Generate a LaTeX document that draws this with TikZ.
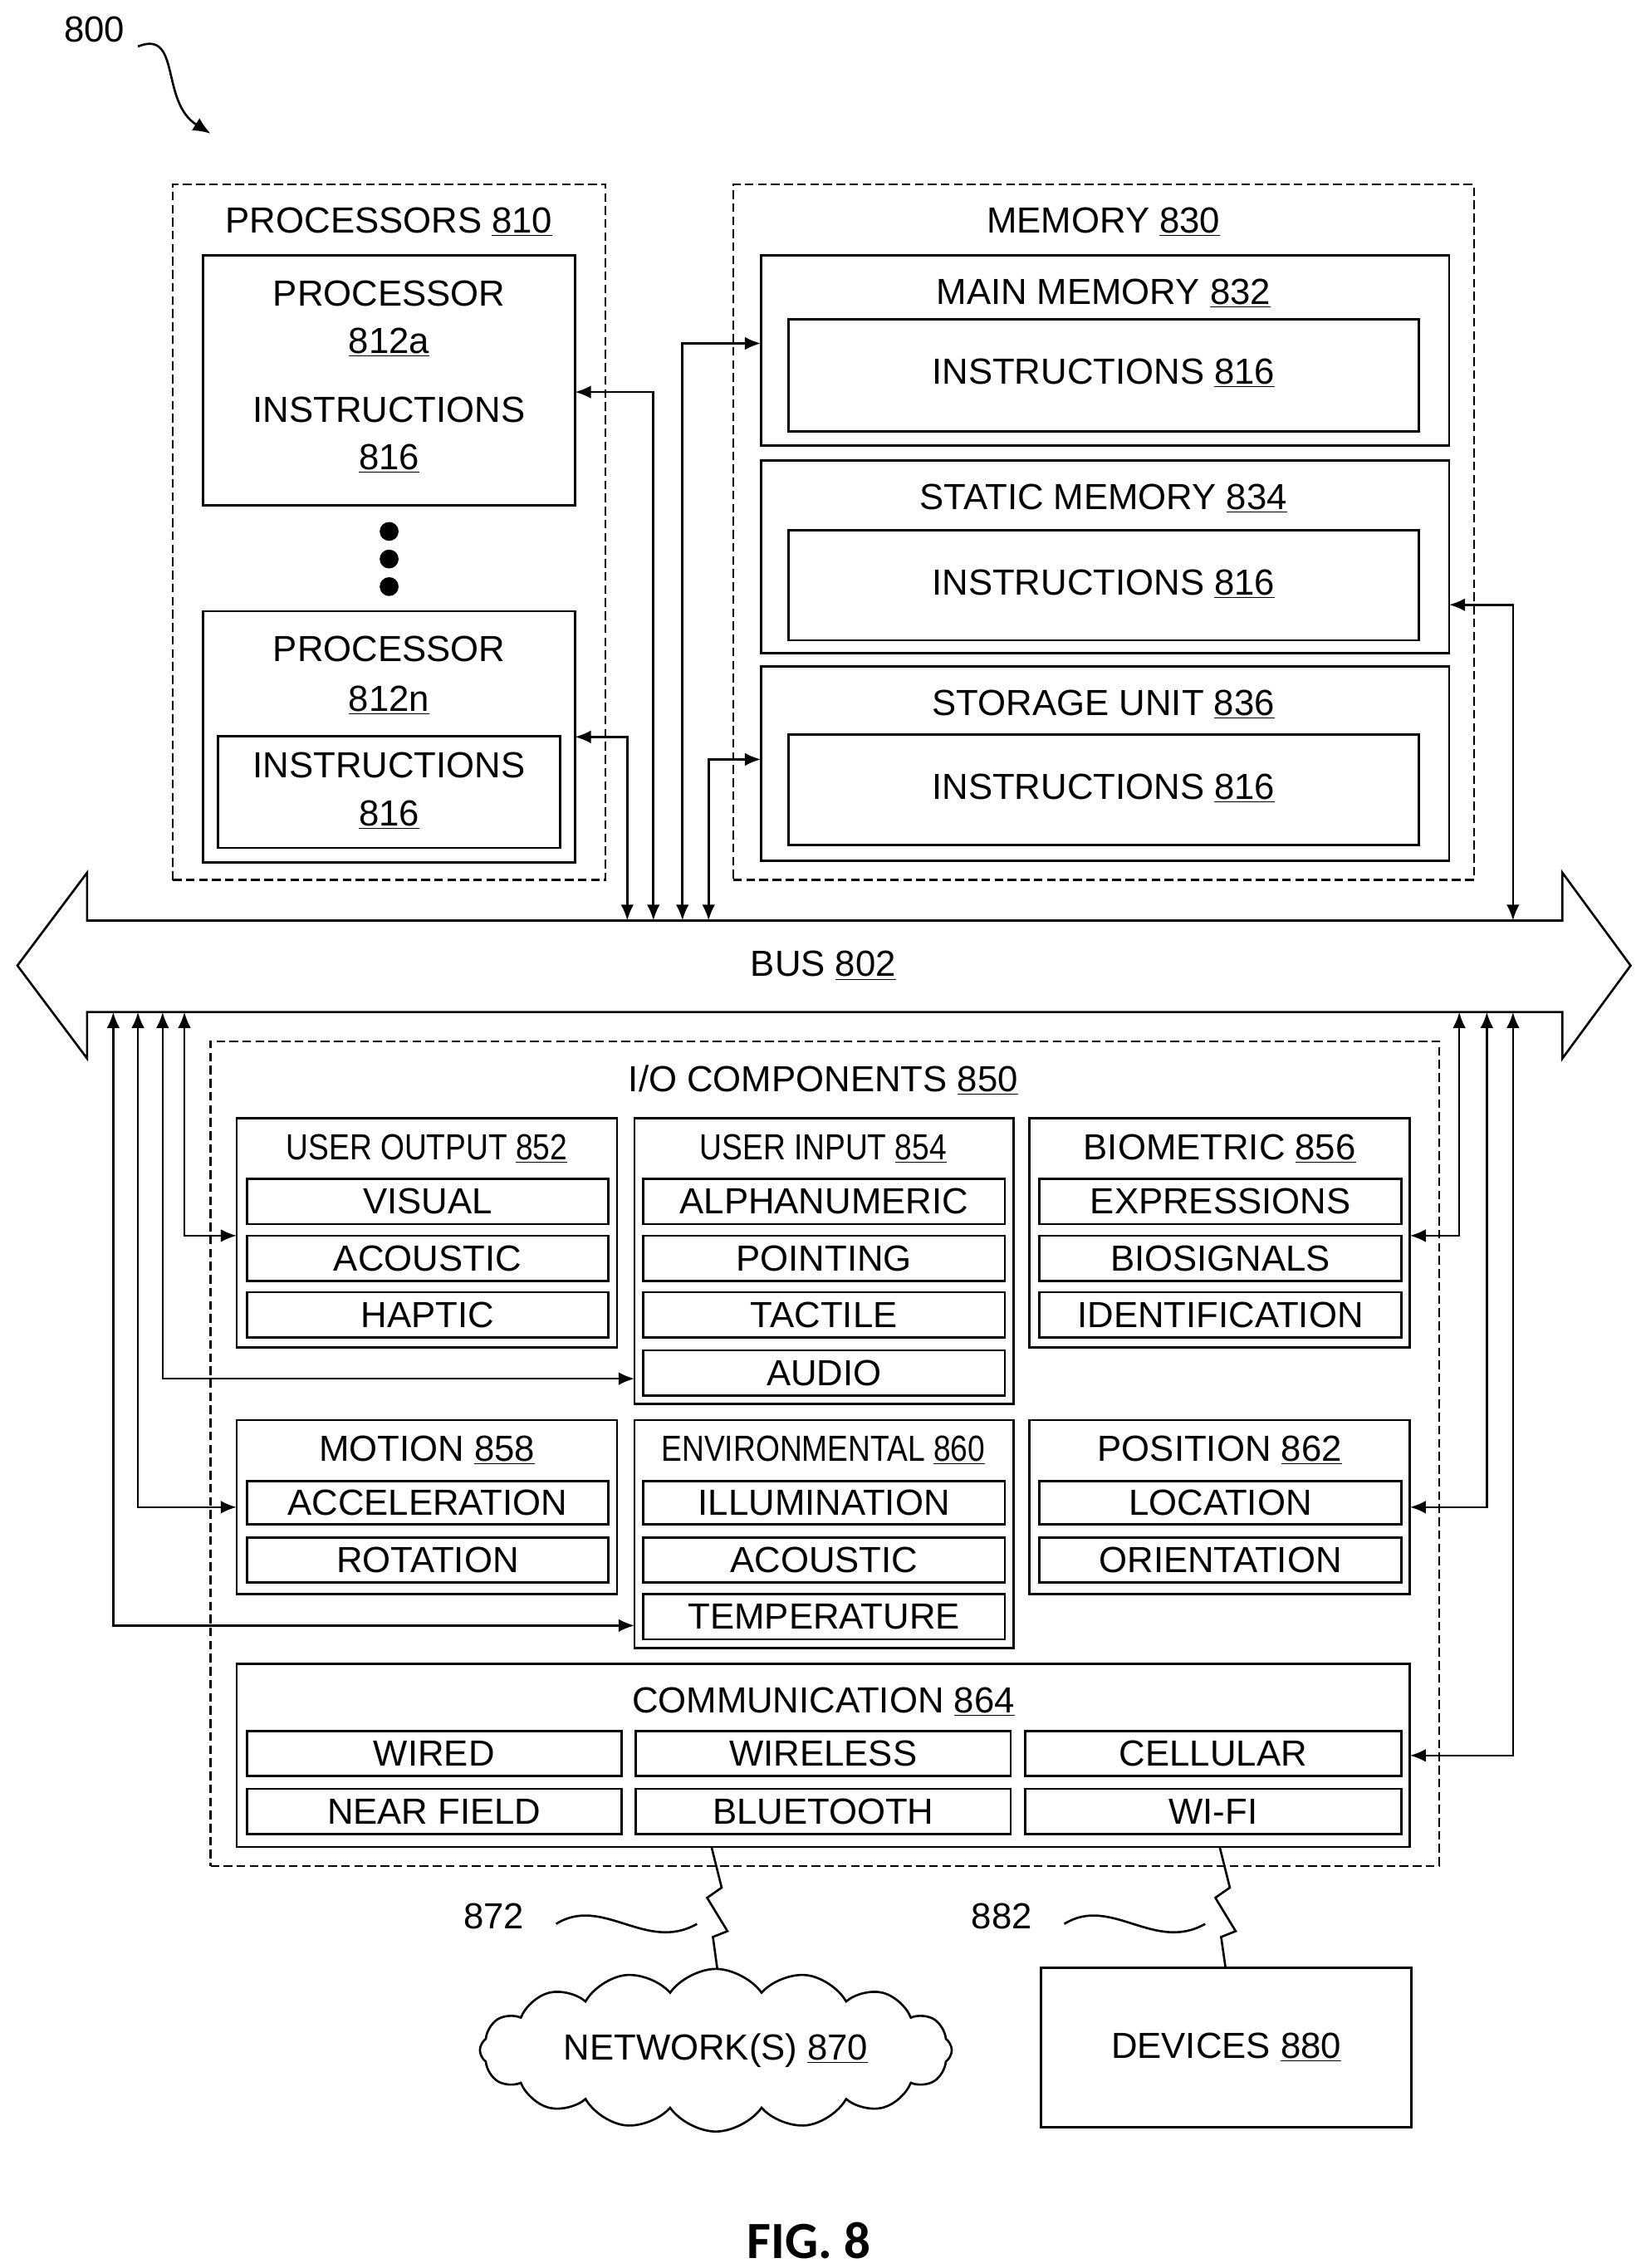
\documentclass[tikz,border=0pt]{standalone}
\usepackage{fontspec}
\setmainfont{Liberation Sans}
\newfontfamily\figfont{Carlito}
\usetikzlibrary{arrows.meta,shapes.symbols}
\newcommand\ul[1]{\underline{#1}}
\newcommand\nar[1]{\scalebox{0.85}[1]{#1}}
\newcommand\mybox[6]{\node[#1,minimum width={#5-#3},minimum height={#6-#4}] (#2) at ({(#3+#5)/2},{(#4+#6)/2}) {};}
\newcommand\myitem[6]{\mybox{box}{#1}{#2}{#3}{#4}{#5}\node[txt] at (#1) {#6};}
\begin{document}
\begin{tikzpicture}[x=1pt,y=-1pt,
  box/.style={draw,line width=1.6pt,inner sep=0,outer sep=0},
  dbox/.style={draw,line width=1.2pt,dash pattern=on 6pt off 3pt,inner sep=0,outer sep=0},
  txt/.style={font=\fontsize{25}{30}\selectfont,inner sep=0},
  ln/.style={line width=1.5pt},
  arr/.style={ln,{Latex[length=11pt,width=9pt]}-{Latex[length=11pt,width=9pt]}},
  arre/.style={ln,-{Latex[length=11pt,width=9pt]}}]
\useasboundingbox (0,0) rectangle (1130,1562);
% 800
\node[txt] (l800) at (65,20) {800};
\draw[ln,-{Latex[length=12pt,width=10pt]}] (95,32) .. controls (125,20) and (110,70) .. (145,92);
% processors
\mybox{dbox}{procs}{119}{127}{417}{606}
\node[txt] (tprocs) at (268,153) {PROCESSORS \ul{810}};
\mybox{box}{pa}{140}{176}{396}{348}
\node[txt] at (268,202) {PROCESSOR};
\node[txt] at (268,236) {\ul{812a}};
\node[txt] at (268,282) {INSTRUCTIONS};
\node[txt] at (268,316) {\ul{816}};
\foreach \yy in {366,385,404} \fill (268,\yy) circle (6.5);
\mybox{box}{pn}{140}{421}{396}{594}
\node[txt] at (268,447) {PROCESSOR};
\node[txt] at (268,482) {\ul{812n}};
\mybox{box}{pni}{150}{507}{386}{584}
\node[txt] at (268,527) {INSTRUCTIONS};
\node[txt] at (268,561) {\ul{816}};
% memory
\mybox{dbox}{mem}{505}{127}{1015}{606}
\node[txt] at (760,153) {MEMORY \ul{830}};
\mybox{box}{mm}{524}{176}{998}{307}
\node[txt] at (760,202) {MAIN MEMORY \ul{832}};
\mybox{box}{mmi}{543}{220}{977}{297}
\node[txt] at (760,257) {INSTRUCTIONS \ul{816}};
\mybox{box}{sm}{524}{317}{998}{450}
\node[txt] at (760,343) {STATIC MEMORY \ul{834}};
\mybox{box}{smi}{543}{365}{977}{441}
\node[txt] at (760,402) {INSTRUCTIONS \ul{816}};
\mybox{box}{su}{524}{459}{998}{593}
\node[txt] at (760,485) {STORAGE UNIT \ul{836}};
\mybox{box}{sui}{543}{506}{977}{582}
\node[txt] at (760,543) {INSTRUCTIONS \ul{816}};
% bus
\draw[ln] (60,634) -- (60,601) -- (12,665) -- (60,729) -- (60,697) -- (1076,697) -- (1076,729) -- (1123,665) -- (1076,601) -- (1076,634) -- cycle;
\node[txt] (bus) at (567,665) {BUS \ul{802}};
\coordinate (b1) at (432,634); \coordinate (b2) at (450,634);
\coordinate (b3) at (470,634); \coordinate (b4) at (488,634);
\coordinate (b5) at (1042,634);
\draw[arr] (pn.east) -| (b1);
\draw[arr] ([yshift=-8pt]pa.east) -| (b2);
\draw[arr] ([yshift=5pt]mm.west) -| (b3);
\draw[arr] ([yshift=3pt]su.west) -| (b4);
\draw[arr] ([yshift=-33pt]sm.east) -| (b5);
% I/O
\mybox{dbox}{io}{145}{717}{991}{1285}
\node[txt] at (567,744) {I/O COMPONENTS \ul{850}};
\mybox{box}{uo}{163}{770}{425}{928}
\node[txt] at (294,791) {\nar{USER OUTPUT \ul{852}}};
\mybox{box}{ui}{437}{770}{698}{967}
\node[txt] at (567,791) {\nar{USER INPUT \ul{854}}};
\mybox{box}{bio}{709}{770}{971}{928}
\node[txt] at (840,791) {BIOMETRIC \ul{856}};
\mybox{box}{mot}{163}{978}{425}{1098}
\node[txt] at (294,999) {MOTION \ul{858}};
\mybox{box}{env}{437}{978}{698}{1135}
\node[txt] at (567,999) {\nar{ENVIRONMENTAL \ul{860}}};
\mybox{box}{pos}{709}{978}{971}{1098}
\node[txt] at (840,999) {POSITION \ul{862}};
\mybox{box}{com}{163}{1146}{971}{1272}
\node[txt] at (567,1172) {COMMUNICATION \ul{864}};
% items
\myitem{vis}{170}{812}{419}{843}{VISUAL}
\myitem{aco}{170}{851}{419}{882}{ACOUSTIC}
\myitem{hap}{170}{890}{419}{921}{HAPTIC}
\myitem{alp}{443}{812}{692}{843}{ALPHANUMERIC}
\myitem{poi}{443}{851}{692}{882}{POINTING}
\myitem{tac}{443}{890}{692}{921}{TACTILE}
\myitem{aud}{443}{930}{692}{961}{AUDIO}
\myitem{exp}{716}{812}{965}{843}{EXPRESSIONS}
\myitem{bsig}{716}{851}{965}{882}{BIOSIGNALS}
\myitem{ide}{716}{890}{965}{921}{IDENTIFICATION}
\myitem{acc}{170}{1020}{419}{1050}{ACCELERATION}
\myitem{rot}{170}{1059}{419}{1090}{ROTATION}
\myitem{ill}{443}{1020}{692}{1050}{ILLUMINATION}
\myitem{eac}{443}{1059}{692}{1090}{ACOUSTIC}
\myitem{tem}{443}{1098}{692}{1129}{TEMPERATURE}
\myitem{loc}{716}{1020}{965}{1050}{LOCATION}
\myitem{ori}{716}{1059}{965}{1090}{ORIENTATION}
\myitem{wir}{170}{1192}{428}{1223}{WIRED}
\myitem{wls}{438}{1192}{696}{1223}{WIRELESS}
\myitem{cel}{706}{1192}{965}{1223}{CELLULAR}
\myitem{nf}{170}{1232}{428}{1263}{NEAR FIELD}
\myitem{bt}{438}{1232}{696}{1263}{BLUETOOTH}
\myitem{wifi}{706}{1232}{965}{1263}{WI-FI}
% io connectors
\coordinate (c1) at (127,697); \coordinate (c2) at (112,697);
\coordinate (c3) at (95,697); \coordinate (c4) at (78,697);
\coordinate (c5) at (1005,697); \coordinate (c6) at (1024,697);
\coordinate (c7) at (1042,697);
\draw[arr] (c1) |- ([yshift=-2pt]uo.west);
\draw[arr] (c2) |- ([yshift=-4pt]aud.west-|ui.west);
\draw[arr] (c3) |- (mot.west);
\draw[arr] (c4) |- ([yshift=-6pt]tem.west-|env.west);
\draw[arr] (c5) |- ([yshift=-2pt]bio.east);
\draw[arr] (c6) |- (pos.east);
\draw[arr] (c7) |- (com.east);
% lightning
\coordinate (n1) at (490,1272); \coordinate (n2) at (840,1272);
\draw[ln] (n1) -- (497,1300) -- (487,1307) -- (501,1330) -- (491,1334) -- (494,1356);
\draw[ln] (n2) -- (847,1300) -- (837,1307) -- (851,1330) -- (841,1334) -- (844,1355);
\node[txt] at (340,1320) {872};
\draw[ln] (383,1325) .. controls (415,1305) and (445,1345) .. (480,1325);
\node[txt] at (690,1320) {882};
\draw[ln] (733,1325) .. controls (765,1305) and (795,1345) .. (830,1325);
% network
\node[cloud,draw,line width=1.5pt,cloud puffs=16,cloud puff arc=110,aspect=3,minimum width=325pt,minimum height=112pt,inner sep=0] (net) at (493,1412) {};
\node[txt] at (493,1412) {NETWORK(S) \ul{870}};
\mybox{box}{dev}{717}{1355}{972}{1465}
\node[txt] at (dev) {DEVICES \ul{880}};
\node[font=\figfont\bfseries\fontsize{36}{40}\selectfont,inner sep=0] (fig) at (557,1543) {FIG. 8};
\end{tikzpicture}
\end{document}
